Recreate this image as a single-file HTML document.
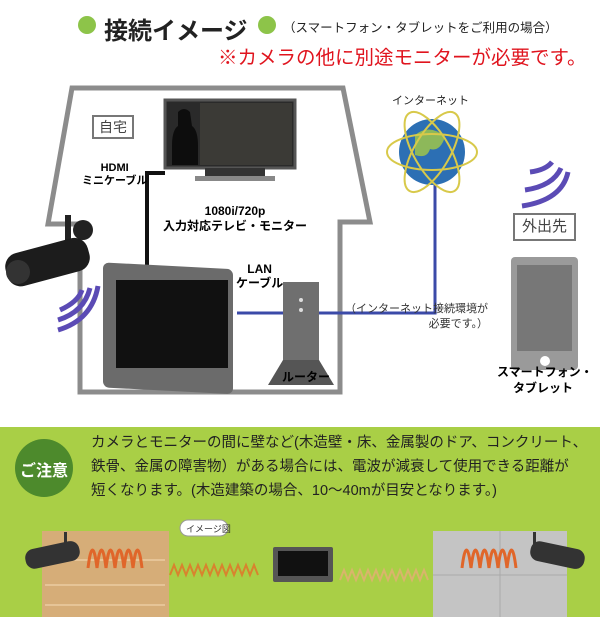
<!DOCTYPE html>
<html><head><meta charset="utf-8"><style>
body{margin:0;width:600px;height:617px;overflow:hidden;background:#fff;font-family:"Liberation Sans","Noto Sans CJK JP",sans-serif;position:relative}
.a{position:absolute;white-space:nowrap}
.b{font-weight:bold}
</style></head><body>
<svg class="a" style="left:0;top:0" width="600" height="617">
<polygon points="72,88 343,88 370,222 340,222 340,392 80,392 80,224 48,224" fill="none" stroke="#8c8c8c" stroke-width="5"/>
<rect x="165" y="100" width="130" height="68" fill="#2a2a2a" stroke="#555" stroke-width="3"/>
<rect x="200" y="103" width="92" height="62" fill="#3b3a36"/>
<path d="M178 112 q6-6 12 0 l2 14 q6 4 6 20 l0 19 l-26 0 l0-19 q0-16 6-20z" fill="#0d0d0d"/>
<rect x="205" y="168" width="60" height="8" fill="#333"/>
<rect x="195" y="176" width="80" height="5" fill="#888"/>
<path d="M165 173 H147 V285" fill="none" stroke="#111" stroke-width="4"/>
<path d="M237 313 H435 V180" fill="none" stroke="#3b4aa8" stroke-width="3"/>
<rect x="283" y="282" width="36" height="95" fill="#6f6f6f"/>
<polygon points="283,360 268,385 334,385 319,360" fill="#555"/>
<circle cx="301" cy="300" r="2" fill="#ddd"/><circle cx="301" cy="310" r="2" fill="#ddd"/>
<rect x="103" y="267" width="130" height="125" rx="6" fill="#6b6b6b" transform="skewY(3) translate(0,-10)"/>
<rect x="116" y="280" width="112" height="88" fill="#111"/>
<rect x="65" y="215" width="6" height="35" fill="#222"/>
<circle cx="83" cy="230" r="10" fill="#222"/>
<rect x="5" y="245" width="85" height="34" rx="14" fill="#1c1c1c" transform="rotate(-15 48 262)"/>
<circle cx="18" cy="272" r="12" fill="#333"/>
<g fill="none" stroke="#5b4bb5" stroke-width="5">
<path d="M82 290 q-4 12 -22 20"/><path d="M90 288 q-6 24 -32 32"/><path d="M98 286 q-6 34 -40 44"/></g>
<circle cx="432" cy="152" r="33" fill="#2c6fb4"/>
<path d="M415 135 q15 -12 30 2 q-5 15 -15 12 q-3 10 -15 6z" fill="#8db85a"/>
<g fill="none" stroke="#d8c94a" stroke-width="2">
<ellipse cx="432" cy="152" rx="45" ry="18"/><ellipse cx="432" cy="152" rx="45" ry="18" transform="rotate(60 432 152)"/><ellipse cx="432" cy="152" rx="45" ry="18" transform="rotate(-60 432 152)"/></g>
<g fill="none" stroke="#5b4bb5" stroke-width="5">
<path d="M530 172 q16 -2 22 -10"/><path d="M525 190 q28 -4 36 -22"/><path d="M522 206 q40 -6 46 -34"/></g>
<rect x="511" y="257" width="67" height="113" rx="4" fill="#9a9a9a"/>
<rect x="517" y="265" width="55" height="86" fill="#777"/>
<circle cx="545" cy="361" r="5" fill="#fff"/>
<rect x="0" y="427" width="600" height="190" fill="#a9cf46"/>
<circle cx="44" cy="468" r="29" fill="#4d8a2c"/>
<rect x="42" y="531" width="127" height="86" fill="#d6ad78"/>
<g stroke="#e6c497" stroke-width="2"><line x1="45" y1="560" x2="165" y2="560"/><line x1="45" y1="585" x2="165" y2="585"/><line x1="45" y1="605" x2="165" y2="605"/></g>
<rect x="433" y="531" width="134" height="86" fill="#c4c4c4"/>
<g stroke="#aaa" stroke-width="1"><line x1="500" y1="531" x2="500" y2="617"/><line x1="433" y1="575" x2="567" y2="575"/></g>
<path d="M88 568 q4.5 -36 9 0 q4.5 -36 9 0 q4.5 -36 9 0 q4.5 -36 9 0 q4.5 -36 9 0 q4.5 -36 9 0" fill="none" stroke="#e0662a" stroke-width="3"/>
<path d="M170 575 l4 -10 l4 10 l4 -10 l4 10 l4 -10 l4 10 l4 -10 l4 10 l4 -10 l4 10 l4 -10 l4 10 l4 -10 l4 10 l4 -10 l4 10 l4 -10 l4 10 l4 -10 l4 10 l4 -10 l4 10" fill="none" stroke="#d8832e" stroke-width="2"/>
<path d="M340 580 l4 -10 l4 10 l4 -10 l4 10 l4 -10 l4 10 l4 -10 l4 10 l4 -10 l4 10 l4 -10 l4 10 l4 -10 l4 10 l4 -10 l4 10 l4 -10 l4 10 l4 -10 l4 10 l4 -10 l4 10" fill="none" stroke="#d9b56b" stroke-width="2"/>
<path d="M462 568 q4.5 -36 9 0 q4.5 -36 9 0 q4.5 -36 9 0 q4.5 -36 9 0 q4.5 -36 9 0 q4.5 -36 9 0" fill="none" stroke="#e0662a" stroke-width="3"/>
<rect x="273" y="547" width="60" height="35" rx="2" fill="#555"/>
<rect x="278" y="551" width="50" height="25" fill="#111"/>
<rect x="25" y="545" width="55" height="20" rx="9" fill="#333" transform="rotate(-12 52 555)"/>
<rect x="64" y="532" width="3" height="14" fill="#333"/>
<rect x="530" y="545" width="55" height="20" rx="9" fill="#333" transform="rotate(12 557 555)"/>
<rect x="533" y="532" width="3" height="14" fill="#333"/>
<rect x="180" y="520" width="48" height="16" rx="8" fill="#fff" stroke="#999"/>
</svg>
<div class="a" style="left:78px;top:16px;width:18px;height:18px;border-radius:50%;background:#8dc449"></div>
<div class="a b" style="left:104px;top:11px;font-size:24px;color:#222">接続イメージ</div>
<div class="a" style="left:258px;top:16px;width:18px;height:18px;border-radius:50%;background:#8dc449"></div>
<div class="a" style="left:283px;top:17px;font-size:12.5px;color:#222">（スマートフォン・タブレットをご利用の場合）</div>
<div class="a" style="left:218px;top:41px;font-size:19.5px;color:#e0141e">※カメラの他に別途モニターが必要です。</div>
<div class="a" style="left:92px;top:115px;width:38px;height:20px;border:2px solid #777;font-size:14px;text-align:center;line-height:20px;color:#444">自宅</div>
<div class="a b" style="left:82px;top:162px;font-size:11px;text-align:center;line-height:13px">HDMI<br>ミニケーブル</div>
<div class="a b" style="left:160px;top:204px;font-size:12px;text-align:center;line-height:15px;width:150px">1080i/720p<br>入力対応テレビ・モニター</div>
<div class="a b" style="left:236px;top:262px;font-size:12px;text-align:center;line-height:14px">LAN<br>ケーブル</div>
<div class="a b" style="left:282px;top:368px;font-size:12px">ルーター</div>
<div class="a" style="left:345px;top:302px;font-size:11px;text-align:right;line-height:15px;color:#333">（インターネット接続環境が<br>必要です。）</div>
<div class="a" style="left:392px;top:92px;font-size:11px;color:#222">インターネット</div>
<div class="a" style="left:513px;top:213px;width:59px;height:24px;border:2px solid #777;font-size:15px;text-align:center;line-height:24px;color:#444">外出先</div>
<div class="a b" style="left:497px;top:364px;font-size:12px;text-align:center;line-height:16px;width:92px">スマートフォン・<br>タブレット</div>
<div class="a b" style="left:20px;top:457px;font-size:16px;color:#fff">ご注意</div>
<div class="a" style="left:91px;top:431px;font-size:14.5px;line-height:24px;color:#222">カメラとモニターの間に壁など(木造壁・床、金属製のドア、コンクリート、<br>鉄骨、金属の障害物）がある場合には、電波が減衰して使用できる距離が<br>短くなります。(木造建築の場合、10～40mが目安となります。)</div>
<div class="a" style="left:186px;top:522px;font-size:9px;color:#333">イメージ図</div>
</body></html>
